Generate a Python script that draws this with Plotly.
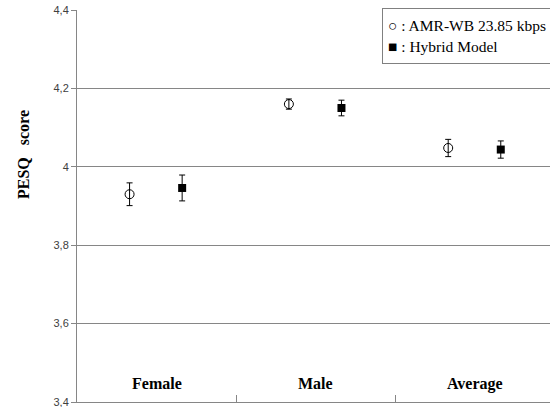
import plotly.graph_objects as go

categories = ["Female", "Male", "Average"]
amr_wb = [3.930, 4.160, 4.048]
amr_wb_err = [0.029, 0.013, 0.022]
hybrid = [3.946, 4.150, 4.044]
hybrid_err = [0.033, 0.020, 0.022]
y_tickvals = [3.4, 3.6, 3.8, 4.0, 4.2, 4.4]
y_ticktext = ["3,4", "3,6", "3,8", "4", "4,2", "4,4"]

idx = list(range(len(categories)))
off_a, off_b = -0.17, 0.16

fig = go.Figure()
fig.add_trace(go.Scatter(
    x=[i + off_a for i in idx], y=amr_wb, mode="markers", name="AMR-WB 23.85 kbps",
    marker=dict(symbol="circle-open", size=9, color="black", line=dict(width=1, color="black")),
    error_y=dict(type="data", array=amr_wb_err, color="black", thickness=1, width=3),
    showlegend=False,
))
fig.add_trace(go.Scatter(
    x=[i + off_b for i in idx], y=hybrid, mode="markers", name="Hybrid Model",
    marker=dict(symbol="square", size=8, color="black"),
    error_y=dict(type="data", array=hybrid_err, color="black", thickness=1, width=3),
    showlegend=False,
))

for i, c in zip(idx, categories):
    fig.add_annotation(x=i, y=3.447, xref="x", yref="y", text="<b>" + c + "</b>",
                       showarrow=False, font=dict(family="Liberation Serif", size=16, color="black"))

fig.add_annotation(x=(382 - 77) / 473, y=(402 - 8) / 392, xref="paper", yref="paper",
                   xanchor="left", yanchor="top",
                   text="○ : AMR-WB 23.85 kbps<br>■ : Hybrid Model", align="left", valign="middle",
                   showarrow=False, bgcolor="white", bordercolor="#808080", borderwidth=1,
                   borderpad=5, width=166, height=44,
                   font=dict(family="Liberation Serif", size=15.5, color="black"))

fig.add_annotation(x=(23 - 77) / 473, y=(402 - 155) / 392, xref="paper", yref="paper",
                   xanchor="center", yanchor="middle",
                   text="<b>PESQ&nbsp;&nbsp; score</b>",
                   textangle=-90, showarrow=False,
                   font=dict(family="Liberation Serif", size=16, color="black"))

fig.update_layout(
    width=550, height=407,
    margin=dict(l=77, r=0, t=10, b=5),
    plot_bgcolor="white", paper_bgcolor="white",
    xaxis=dict(range=[-0.5, 2.469], showgrid=False, zeroline=False,
               showline=True, linecolor="#868686", linewidth=1,
               tickvals=[], showticklabels=False,
               minor=dict(tickmode="array", tickvals=[0.5, 1.5], ticks="inside",
                          ticklen=7, tickcolor="#868686", tickwidth=1, showgrid=False)),
    yaxis=dict(range=[3.4, 4.4], tickvals=y_tickvals, ticktext=y_ticktext,
               showgrid=True, gridcolor="#868686", gridwidth=1, zeroline=False,
               showline=True, linecolor="#868686", linewidth=1,
               ticks="outside", ticklen=5, tickcolor="#868686", ticklabeloverflow="allow",
               tickfont=dict(family="Liberation Sans", size=11, color="#404040")),
)

fig.write_html("out.html", config={"displayModeBar": False},
               post_script="document.body.style.margin='0';document.body.style.overflow='hidden';")
